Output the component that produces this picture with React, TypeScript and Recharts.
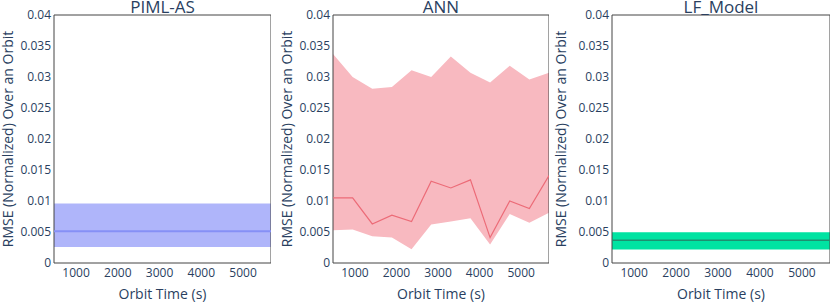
import React from "react";
import {
  ComposedChart,
  Area,
  Line,
  XAxis,
  YAxis,
  ReferenceArea,
} from "recharts";

// orbit sample times (s)
const ORBIT_TIMES = [472.5, 945, 1417.5, 1890, 2362.5, 2835, 3307.5, 3780, 4252.5, 4725, 5197.5, 5670];

const PIML_LOWER = [0.00258, 0.00258, 0.00258, 0.00258, 0.00258, 0.00258, 0.00258, 0.00258, 0.00258, 0.00258, 0.00258, 0.00258];
const PIML_MEAN = [0.00511, 0.00511, 0.00511, 0.00511, 0.00511, 0.00511, 0.00511, 0.00511, 0.00511, 0.00511, 0.00511, 0.00511];
const PIML_UPPER = [0.00958, 0.00958, 0.00958, 0.00958, 0.00958, 0.00958, 0.00958, 0.00958, 0.00958, 0.00958, 0.00958, 0.00958];

const ANN_LOWER = [0.0053, 0.0054, 0.0043, 0.0041, 0.0022, 0.0062, 0.0067, 0.0072, 0.003, 0.0079, 0.0065, 0.0081];
const ANN_MEAN = [0.0105, 0.0105, 0.0063, 0.0077, 0.0067, 0.0132, 0.0121, 0.0134, 0.0041, 0.01, 0.0088, 0.0141];
const ANN_UPPER = [0.0337, 0.03, 0.0281, 0.0284, 0.0311, 0.03, 0.0333, 0.0307, 0.0291, 0.0318, 0.0296, 0.0307];

const LF_LOWER = [0.00216, 0.00216, 0.00216, 0.00216, 0.00216, 0.00216, 0.00216, 0.00216, 0.00216, 0.00216, 0.00216, 0.00216];
const LF_MEAN = [0.00366, 0.00366, 0.00366, 0.00366, 0.00366, 0.00366, 0.00366, 0.00366, 0.00366, 0.00366, 0.00366, 0.00366];
const LF_UPPER = [0.00495, 0.00495, 0.00495, 0.00495, 0.00495, 0.00495, 0.00495, 0.00495, 0.00495, 0.00495, 0.00495, 0.00495];

const X_TICKS = [1000, 2000, 3000, 4000, 5000];
const Y_TICKS = [0, 0.005, 0.01, 0.015, 0.02, 0.025, 0.03, 0.035, 0.04];

const FONT = '"Open Sans", sans-serif';
const TEXT = "#2a3f5f";

const build = (lower: number[], mean: number[], upper: number[]) =>
  ORBIT_TIMES.map((t, i) => ({ t, band: [lower[i], upper[i]], mean: mean[i] }));

// left = where the panel svg starts, yw = y axis strip width (plot starts at left + yw)
const panels = [
  { title: "PIML-AS", data: build(PIML_LOWER, PIML_MEAN, PIML_UPPER), fill: "#afb5fa", line: "#8690f6", lw: 2, left: 0, yw: 54, width: 271, labelDx: -19 },
  { title: "ANN", data: build(ANN_LOWER, ANN_MEAN, ANN_UPPER), fill: "#f8b9c0", line: "#ec6b77", lw: 1.2, left: 279, yw: 54, width: 270, labelDx: -19 },
  { title: "LF_Model", data: build(LF_LOWER, LF_MEAN, LF_UPPER), fill: "#00e3a2", line: "#1f8f70", lw: 1.5, left: 550, yw: 62, width: 280, labelDx: -20 },
];

const Panel = ({ p }: { p: (typeof panels)[number] }) => (
  <div style={{ position: "absolute", left: p.left, top: 0 }}>
    <ComposedChart width={p.width} height={302} data={p.data} margin={{ top: 15, right: 0, bottom: 0, left: 0 }}>
      <XAxis
        dataKey="t"
        type="number"
        domain={[472.5, 5670]}
        ticks={X_TICKS}
        allowDataOverflow
        height={39}
        tickLine={false}
        tickSize={0}
        tickMargin={5}
        axisLine={false}
        tick={{ fill: TEXT, fontSize: 12, fontFamily: FONT }}
        label={{ value: "Orbit Time (s)", position: "insideBottom", offset: 3, fill: TEXT, fontSize: 14, fontFamily: FONT }}
      />
      <YAxis
        type="number"
        domain={[0, 0.04]}
        ticks={Y_TICKS}
        width={p.yw}
        tickLine={false}
        tickSize={0}
        tickMargin={3}
        axisLine={false}
        tick={{ fill: TEXT, fontSize: 12, fontFamily: FONT }}
        label={{ value: "RMSE (Normalized) Over an Orbit", angle: -90, position: "center", dx: p.labelDx, fill: TEXT, fontSize: 14, fontFamily: FONT }}
      />
      <Area dataKey="band" type="linear" stroke="none" fill={p.fill} fillOpacity={1} isAnimationActive={false} />
      <Line dataKey="mean" type="linear" stroke={p.line} strokeWidth={p.lw} dot={false} isAnimationActive={false} />
      <ReferenceArea x1={472.5} x2={5670} y1={0} y2={0.04} fill="none" stroke="#444" strokeWidth={1} />
    </ComposedChart>
    <div
      style={{
        position: "absolute",
        left: p.yw,
        width: p.width - p.yw,
        top: 0,
        textAlign: "center",
        fontFamily: FONT,
        fontSize: 17,
        color: TEXT,
        lineHeight: "14px",
      }}
    >
      {p.title}
    </div>
  </div>
);

export default function App() {
  return (
    <div style={{ position: "fixed", left: 0, top: 0, width: 830, height: 302, background: "#fff", overflow: "hidden" }}>
      {panels.map((p) => (
        <Panel key={p.title} p={p} />
      ))}
    </div>
  );
}
